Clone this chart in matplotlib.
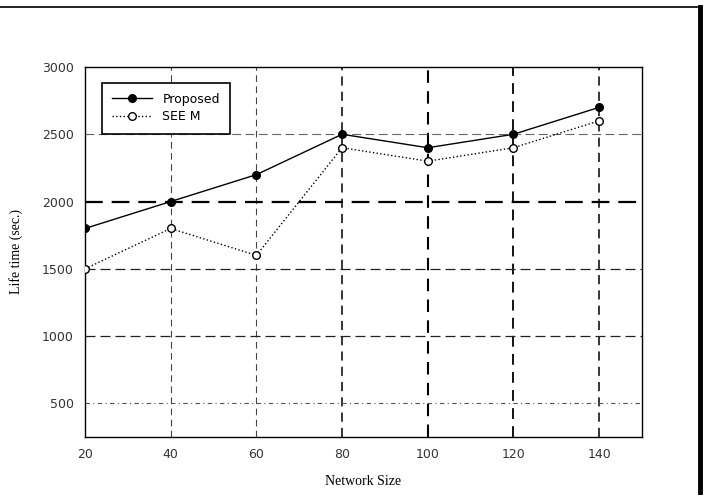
import matplotlib
matplotlib.use("Agg")
import matplotlib.pyplot as plt
from matplotlib.lines import Line2D

# Data
network_size = [20, 40, 60, 80, 100, 120, 140]
proposed = [1800, 2000, 2200, 2500, 2400, 2500, 2700]
seem = [1500, 1800, 1600, 2400, 2300, 2400, 2600]
y_ticks = [500, 1000, 1500, 2000, 2500, 3000]

fig = plt.figure(figsize=(7.06, 4.96), dpi=100)
ax = fig.add_axes([85 / 706, 1 - 437 / 496, (642 - 85) / 706, (437 - 67) / 496])

# grid lines (dashed, uneven weight like the scan)
v_style = {40: (0.8, "#444444"), 60: (0.8, "#444444"), 80: (1.1, "black"),
           100: (1.5, "black"), 120: (1.3, "black"), 140: (1.1, "black")}
for x in network_size[1:]:
    lw, c = v_style[x]
    ax.axvline(x, color=c, linestyle=(0, (6, 4)), linewidth=lw, zorder=1)
h_style = {500: (0.8, "#555555", (0, (4, 3, 1, 3))), 1000: (0.9, "#222222", (0, (8, 4))),
           1500: (0.9, "#222222", (0, (8, 4))), 2000: (1.6, "black", (0, (8, 4))),
           2500: (0.8, "#666666", (0, (8, 4)))}
for y in y_ticks[:-1]:
    lw, c, ls = h_style[y]
    ax.axhline(y, color=c, linestyle=ls, linewidth=lw, zorder=1)

ax.plot(network_size, proposed, color="black", linewidth=1.0, marker="o",
        markersize=5.5, markerfacecolor="black", label="Proposed", zorder=3)
ax.plot(network_size, seem, color="black", linewidth=1.0, linestyle=":",
        marker="o", markersize=5.5, markerfacecolor="white", label="SEE M", zorder=3)

ax.set_xlim(20, 150)
ax.set_ylim(250, 3000)
ax.set_xticks(network_size)
ax.set_yticks(y_ticks)
ax.tick_params(direction="in", length=0, labelsize=9, labelcolor="#333333", pad=8)
for s in ax.spines.values():
    s.set_linewidth(1.0)

ax.set_xlabel("Network Size", family="Liberation Serif", fontsize=10, labelpad=10)
ax.set_ylabel("Life time (sec.)", family="Liberation Serif", fontsize=10, labelpad=14)

leg = ax.legend(loc="upper left", bbox_to_anchor=(0.02, 0.975), fancybox=False,
                framealpha=1, edgecolor="black", fontsize=9, handlelength=3.2,
                borderpad=0.8, labelspacing=0.4)
leg.get_frame().set_linewidth(1.2)

# outer frame of the scanned page
fig.add_artist(Line2D([0, 698 / 706], [1 - 7 / 496, 1 - 7 / 496], color="black",
                      linewidth=1.2, transform=fig.transFigure))
fig.add_artist(Line2D([700 / 706, 700 / 706], [1 - 7 / 496, 1 - 492 / 496],
                      color="black", linewidth=3.5, transform=fig.transFigure))

fig.savefig("out.png", dpi=100)
